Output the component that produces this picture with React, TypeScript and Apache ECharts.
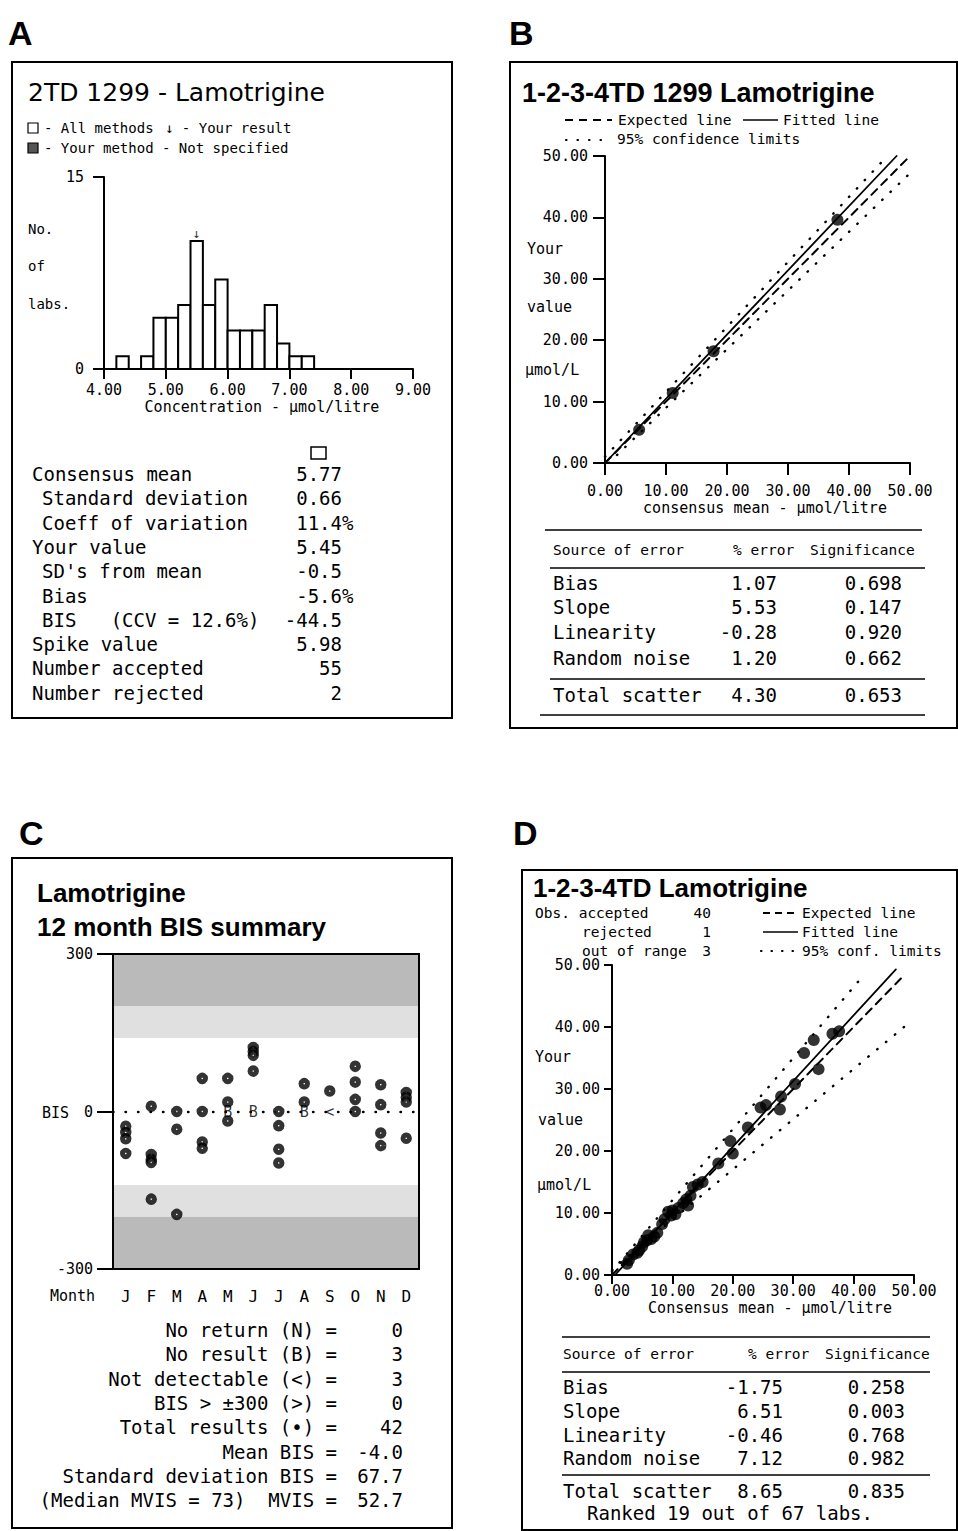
import React, { useEffect, useRef } from 'react';
import * as echarts from 'echarts';

const MONO = '"DejaVu Sans Mono", monospace';
const SANS = '"Liberation Sans", Arial, sans-serif';
const DSANS = '"DejaVu Sans", sans-serif';

// ---------- Panel A: histogram ----------
const histBinStarts = [4.2, 4.4, 4.6, 4.8, 5.0, 5.2, 5.4, 5.6, 5.8, 6.0, 6.2, 6.4, 6.6, 6.8, 7.0, 7.2];
const histCounts = [1, 0, 1, 4, 4, 5, 10, 5, 7, 3, 3, 3, 5, 2, 1, 1];
const histBinWidth = 0.2;
const yourResultMark = [[5.5, 10]];
const aStatLabels = [
  'Consensus mean', ' Standard deviation', ' Coeff of variation', 'Your value', " SD's from mean",
  ' Bias', ' BIS   (CCV = 12.6%)', 'Spike value', 'Number accepted', 'Number rejected',
];
const aStatValues = ['5.77', '0.66', '11.4%', '5.45', '-0.5', '-5.6%', '-44.5', '5.98', '55', '2'];

// ---------- Panel B ----------
const bPoints = [[5.6, 5.4], [11.1, 11.4], [17.8, 18.2], [38.1, 39.6]];
const bExpected = [[0, 0], [49.5, 49.5]];
const bFitted = [[0, 0], [47.8, 50]];
const bUpper = [[0, 1.0], [46.3, 50]];
const bLower = [[0.6, 0], [50, 47.2]];
const errorSources = ['Bias', 'Slope', 'Linearity', 'Random noise'];
const bPctError = ['1.07', '5.53', '-0.28', '1.20'];
const bSignif = ['0.698', '0.147', '0.920', '0.662'];
const bTotal = ['4.30', '0.653'];

// ---------- Panel C ----------
const months = ['J', 'F', 'M', 'A', 'M', 'J', 'J', 'A', 'S', 'O', 'N', 'D'];
const cMonthlyBIS = [
  [-28, -40, -52, -80],
  [10, -82, -91, -97, -167],
  [0, -34, -196],
  [63, 0, -58, -70],
  [63, 18, -18],
  [122, 114, 107, 77],
  [0, -27, -72, -98],
  [53, 18],
  [39],
  [86, 56, 23, 0],
  [51, 13, -41, -65],
  [36, 27, 18, -51],
];
const cCodes = [[4, 0, 'B'], [5, 0, 'B'], [7, 0, 'B'], [8, 0, '<']];
const cOuterBand = [200, 300];
const cInnerBand = [140, 200];
const cSummaryLabels = [
  'No return (N) =', 'No result (B) =', 'Not detectable (<) =', 'BIS > ±300 (>) =',
  'Total results (•) =', 'Mean BIS =', 'Standard deviation BIS =', '(Median MVIS = 73)  MVIS =',
];
const cSummaryValues = ['0', '3', '3', '0', '42', '-4.0', '67.7', '52.7'];

// ---------- Panel D ----------
const dPoints = [
  [2.5, 1.8], [2.8, 2.4], [3.5, 3.3], [4.2, 3.6], [4.5, 4.0], [5.0, 4.6], [5.3, 5.3], [5.8, 5.6],
  [6.0, 6.4], [6.5, 5.8], [7.0, 6.2], [7.5, 6.8], [8.3, 8.2], [8.7, 9.0], [9.3, 10.2], [9.8, 9.6],
  [10.0, 10.4], [10.5, 9.8], [11.0, 10.8], [11.8, 11.6], [12.3, 12.2], [12.6, 11.2], [13.0, 12.8],
  [13.4, 14.2], [14.2, 14.6], [15.0, 15.0], [17.6, 18.0], [19.6, 21.6], [20.0, 19.6], [22.5, 23.8],
  [24.6, 27.0], [25.5, 27.4], [28.0, 28.8], [27.8, 26.7], [30.3, 30.8], [31.8, 35.8], [33.4, 37.9],
  [34.2, 33.2], [36.5, 38.9], [37.6, 39.3],
];
const dExpected = [[0, 0], [48.3, 48.3]];
const dFitted = [[0.5, 0], [47, 49.3]];
const dUpper = [[0, 0.6], [41.7, 48.4]];
const dLower = [[0, 0.8], [49.7, 41.1]];
const dPctError = ['-1.75', '6.51', '-0.46', '7.12'];
const dSignif = ['0.258', '0.003', '0.768', '0.982'];
const dTotal = ['8.65', '0.835'];
const dRank = 'Ranked 19 out of 67 labs.';
const dObsLabels = ['Obs. accepted', 'rejected', 'out of range'];
const dObsValues = ['40', '1', '3'];

// ---------- helpers ----------
const nb = (s: string) => s.replace(/ /g, '\u00a0');
const T = (x: number, y: number, text: string, o: any = {}) => ({
  type: 'text', x, y, z: 100,
  style: {
    text: nb(text), fill: '#000',
    fontSize: o.size ?? 19, fontFamily: o.family ?? MONO, fontWeight: o.weight ?? 'normal',
    textAlign: o.align ?? 'left', align: o.align ?? 'left',
    textVerticalAlign: 'middle', verticalAlign: 'middle',
  },
});
const L = (x1: number, y1: number, x2: number, y2: number, o: any = {}) => ({
  type: 'line', z: 100,
  shape: { x1, y1, x2, y2 },
  style: { stroke: '#000', lineWidth: o.w ?? 1.5, lineDash: o.dash ?? null, lineCap: o.cap ?? 'butt' },
});
const R = (x: number, y: number, w: number, h: number, o: any = {}) => ({
  type: 'rect', z: o.z ?? 100,
  shape: { x, y, width: w, height: h },
  style: { fill: o.fill ?? 'none', stroke: o.stroke ?? '#000', lineWidth: o.w ?? 2 },
});

const fmt2 = (v: number) => v.toFixed(2);

const valAxis = (grid: number, min: number, max: number, interval: number, tick: number, margin: number, f?: any) => ({
  gridIndex: grid, type: 'value', min, max, interval,
  axisLine: { show: true, onZero: false, lineStyle: { color: '#000', width: 2 } },
  axisTick: { show: true, inside: false, length: tick, lineStyle: { color: '#000', width: 2 } },
  splitLine: { show: false },
  axisLabel: { color: '#000', fontFamily: MONO, fontSize: 15, margin, formatter: f },
});

const lineSeries = (xi: number, data: number[][], type: any, width = 1.8) => ({
  type: 'line', xAxisIndex: xi, yAxisIndex: xi, data, showSymbol: false, symbol: 'none', silent: true,
  lineStyle: { color: '#000', width, type, cap: 'round' },
  z: 3,
});

function buildOption() {
  const graphic: any[] = [];
  // panel letters
  graphic.push(T(8, 33, 'A', { family: SANS, weight: 'bold', size: 34 }));
  graphic.push(T(509, 33, 'B', { family: SANS, weight: 'bold', size: 34 }));
  graphic.push(T(19, 833, 'C', { family: SANS, weight: 'bold', size: 34 }));
  graphic.push(T(513, 833, 'D', { family: SANS, weight: 'bold', size: 34 }));
  // boxes
  graphic.push(R(12, 62, 440, 656));
  graphic.push(R(510, 62, 447, 666));
  graphic.push(R(12, 858, 440, 670));
  graphic.push(R(522, 870, 435, 660));

  // ---- Panel A texts ----
  graphic.push(T(28, 92, '2TD 1299 - Lamotrigine', { family: DSANS, size: 25 }));
  graphic.push(R(28, 123, 10, 10, { w: 1.2 }));
  graphic.push(T(44, 128, '- All methods', { size: 14 }));
  graphic.push(T(165, 128, '↓ - Your result', { size: 14 }));
  graphic.push(R(28, 143, 10, 10, { w: 1.2, fill: '#555' }));
  graphic.push(T(44, 148, '- Your method - Not specified', { size: 14 }));
  graphic.push(T(28, 229, 'No.', { size: 14 }));
  graphic.push(T(28, 266, 'of', { size: 14 }));
  graphic.push(T(28, 304, 'labs.', { size: 14 }));
  graphic.push(T(262, 407, 'Concentration - µmol/litre', { size: 15, align: 'center' }));
  graphic.push(R(311, 447, 15, 12, { w: 1.5 }));
  aStatLabels.forEach((lab, i) => {
    const y = 474 + i * 24.3;
    const indent = lab.length - lab.trimStart().length;
    graphic.push(T(32 + indent * 10, y, lab.trimStart()));
    const v = aStatValues[i];
    graphic.push(T(342 + (v.endsWith('%') ? 11.4 : 0), y, v, { align: 'right' }));
  });

  // ---- Panel B texts ----
  graphic.push(T(522, 93, '1-2-3-4TD 1299 Lamotrigine', { family: SANS, weight: 'bold', size: 27 }));
  graphic.push(L(565, 120, 612, 120, { w: 2, dash: [8, 6] }));
  graphic.push(T(618, 120, 'Expected line', { size: 14.5 }));
  graphic.push(L(743, 120, 778, 120, { w: 1.5 }));
  graphic.push(T(783, 120, 'Fitted line', { size: 14.5 }));
  graphic.push(L(566, 140, 612, 140, { w: 2.2, dash: [0.5, 11], cap: 'round' }));
  graphic.push(T(617, 139, '95% confidence limits', { size: 14.5 }));
  graphic.push(T(527, 249, 'Your', { size: 15 }));
  graphic.push(T(527, 307, 'value', { size: 15 }));
  graphic.push(T(525, 370, 'µmol/L', { size: 15 }));
  graphic.push(T(765, 508, 'consensus mean - µmol/litre', { size: 15, align: 'center' }));
  graphic.push(L(545, 530, 922, 530));
  graphic.push(T(553, 550, 'Source of error', { size: 14.5 }));
  graphic.push(T(733, 550, '% error', { size: 14.5 }));
  graphic.push(T(810, 550, 'Significance', { size: 14.5 }));
  graphic.push(L(550, 568, 925, 568));
  errorSources.forEach((s, i) => {
    const y = [583, 607, 632, 658][i];
    graphic.push(T(553, y, s));
    graphic.push(T(777, y, bPctError[i], { align: 'right' }));
    graphic.push(T(902, y, bSignif[i], { align: 'right' }));
  });
  graphic.push(L(550, 679, 925, 679));
  graphic.push(T(553, 695, 'Total scatter'));
  graphic.push(T(777, 695, bTotal[0], { align: 'right' }));
  graphic.push(T(902, 695, bTotal[1], { align: 'right' }));
  graphic.push(L(540, 715, 925, 715));

  // ---- Panel C texts ----
  graphic.push(T(37, 893, 'Lamotrigine', { family: SANS, weight: 'bold', size: 26 }));
  graphic.push(T(37, 927, '12 month BIS summary', { family: SANS, weight: 'bold', size: 26 }));
  graphic.push(T(42, 1113, 'BIS', { size: 15 }));
  graphic.push(T(50, 1296, 'Month', { size: 15 }));
  graphic.push(R(113, 954, 306, 315, { w: 2, z: 90 }));
  cSummaryLabels.forEach((lab, i) => {
    const y = 1330 + i * 24.3;
    graphic.push(T(337, y, lab, { align: 'right' }));
    graphic.push(T(403, y, cSummaryValues[i], { align: 'right' }));
  });

  // ---- Panel D texts ----
  graphic.push(T(533, 888, '1-2-3-4TD Lamotrigine', { family: SANS, weight: 'bold', size: 26 }));
  dObsLabels.forEach((lab, i) => {
    const y = 913 + i * 19;
    graphic.push(T(i === 0 ? 535 : 582, y, lab, { size: 14.5 }));
    graphic.push(T(711, y, dObsValues[i], { size: 14.5, align: 'right' }));
  });
  graphic.push(L(763, 913, 798, 913, { w: 2, dash: [7, 5] }));
  graphic.push(T(802, 913, 'Expected line', { size: 14.5 }));
  graphic.push(L(763, 932, 798, 932, { w: 1.5 }));
  graphic.push(T(802, 932, 'Fitted line', { size: 14.5 }));
  graphic.push(L(761, 951, 798, 951, { w: 2.2, dash: [0.5, 10], cap: 'round' }));
  graphic.push(T(802, 951, '95% conf. limits', { size: 14.5 }));
  graphic.push(T(535, 1057, 'Your', { size: 15 }));
  graphic.push(T(538, 1120, 'value', { size: 15 }));
  graphic.push(T(537, 1185, 'µmol/L', { size: 15 }));
  graphic.push(T(770, 1308, 'Consensus mean - µmol/litre', { size: 15, align: 'center' }));
  graphic.push(L(562, 1337, 930, 1337));
  graphic.push(T(563, 1354, 'Source of error', { size: 14.5 }));
  graphic.push(T(748, 1354, '% error', { size: 14.5 }));
  graphic.push(T(825, 1354, 'Significance', { size: 14.5 }));
  graphic.push(L(562, 1372, 930, 1372));
  errorSources.forEach((s, i) => {
    const y = [1387, 1411, 1435, 1458][i];
    graphic.push(T(563, y, s));
    graphic.push(T(783, y, dPctError[i], { align: 'right' }));
    graphic.push(T(905, y, dSignif[i], { align: 'right' }));
  });
  graphic.push(L(562, 1475, 930, 1475));
  graphic.push(T(563, 1491, 'Total scatter'));
  graphic.push(T(783, 1491, dTotal[0], { align: 'right' }));
  graphic.push(T(905, 1491, dTotal[1], { align: 'right' }));
  graphic.push(T(587, 1513, dRank));

  const DARK = '#bababa';
  const LIGHT = '#e0e0e0';

  return {
    animation: false,
    backgroundColor: '#fff',
    grid: [
      { left: 104, top: 177, width: 309, height: 192 },
      { left: 605, top: 156, width: 305, height: 307 },
      { left: 113, top: 954, width: 306, height: 315 },
      { left: 612, top: 965, width: 302, height: 310 },
    ],
    xAxis: [
      valAxis(0, 4, 9, 1, 10, 13, fmt2),
      valAxis(1, 0, 50, 10, 12, 20, fmt2),
      {
        gridIndex: 2, type: 'category', data: months, boundaryGap: true,
        axisLine: { show: false, onZero: false }, axisTick: { show: false }, splitLine: { show: false },
        axisLabel: { color: '#000', fontFamily: MONO, fontSize: 16, margin: 19 },
      },
      valAxis(3, 0, 50, 10, 9, 8, fmt2),
    ],
    yAxis: [
      valAxis(0, 0, 15, 15, 11, 20),
      valAxis(1, 0, 50, 10, 12, 17, fmt2),
      valAxis(2, -300, 300, 300, 16, 20),
      valAxis(3, 0, 50, 10, 8, 12, fmt2),
    ],
    series: [
      {
        type: 'custom', xAxisIndex: 0, yAxisIndex: 0, silent: true,
        data: histBinStarts.map((s, i) => [s, s + histBinWidth, histCounts[i]]),
        encode: { x: [0, 1], y: 2 },
        renderItem: (params: any, api: any) => {
          if (api.value(2) <= 0) return null;
          const p0 = api.coord([api.value(0), api.value(2)]);
          const p1 = api.coord([api.value(1), 0]);
          return {
            type: 'rect',
            shape: { x: p0[0], y: p0[1], width: p1[0] - p0[0], height: p1[1] - p0[1] },
            style: { fill: '#fff', stroke: '#000', lineWidth: 2 },
          };
        },
      },
      {
        type: 'scatter', xAxisIndex: 0, yAxisIndex: 0, data: yourResultMark, symbolSize: 1, silent: true,
        itemStyle: { color: 'transparent' },
        label: { show: true, position: 'top', distance: 1, formatter: '↓', color: '#000', fontSize: 13, fontFamily: MONO },
      },
      lineSeries(1, bExpected, [8, 6], 2),
      lineSeries(1, bFitted, 'solid', 1.8),
      lineSeries(1, bUpper, [0.5, 11], 2.4),
      lineSeries(1, bLower, [0.5, 11], 2.4),
      {
        type: 'scatter', xAxisIndex: 1, yAxisIndex: 1, data: bPoints, symbolSize: 12, silent: true,
        itemStyle: { color: '#000' }, z: 4,
      },
      {
        type: 'scatter', xAxisIndex: 2, yAxisIndex: 2, data: [], silent: true,
        markArea: {
          silent: true,
          data: [
            [{ yAxis: cOuterBand[0], itemStyle: { color: DARK } }, { yAxis: cOuterBand[1] }],
            [{ yAxis: cInnerBand[0], itemStyle: { color: LIGHT } }, { yAxis: cInnerBand[1] }],
            [{ yAxis: -cOuterBand[1], itemStyle: { color: DARK } }, { yAxis: -cOuterBand[0] }],
            [{ yAxis: -cInnerBand[1], itemStyle: { color: LIGHT } }, { yAxis: -cInnerBand[0] }],
          ],
        },
        markLine: {
          silent: true, symbol: ['none', 'none'], label: { show: false },
          lineStyle: { color: '#000', type: [0.5, 12], width: 2.4, cap: 'round' },
          data: [{ yAxis: 0 }],
        },
      },
      {
        type: 'scatter', xAxisIndex: 2, yAxisIndex: 2, silent: true, z: 5,
        data: cMonthlyBIS.flatMap((vals, i) => vals.map((v) => [i, v])),
        symbolSize: 6.5,
        itemStyle: { color: '#fff', borderColor: '#000', borderWidth: 5 },
      },
      {
        type: 'scatter', xAxisIndex: 2, yAxisIndex: 2, silent: true, z: 6,
        data: cCodes, symbolSize: 1, itemStyle: { color: 'transparent' },
        label: {
          show: true, position: 'inside', color: '#000', fontFamily: MONO, fontSize: 15,
          formatter: (p: any) => p.value[2],
        },
      },
      lineSeries(3, dExpected, [8, 6], 2),
      lineSeries(3, dFitted, 'solid', 1.8),
      lineSeries(3, dUpper, [0.5, 11], 2.4),
      lineSeries(3, dLower, [0.5, 11], 2.4),
      {
        type: 'scatter', xAxisIndex: 3, yAxisIndex: 3, data: dPoints, symbolSize: 12, silent: true,
        itemStyle: { color: '#000' }, z: 4,
      },
    ],
    graphic,
  };
}

export default function App() {
  const ref = useRef<HTMLDivElement>(null);
  useEffect(() => {
    const chart = echarts.init(ref.current!, null, { renderer: 'svg' });
    chart.setOption(buildOption() as any);
    return () => chart.dispose();
  }, []);
  return (
    <div
      ref={ref}
      style={{ position: 'absolute', left: 0, top: 0, width: 958, height: 1531, background: '#fff' }}
    />
  );
}
